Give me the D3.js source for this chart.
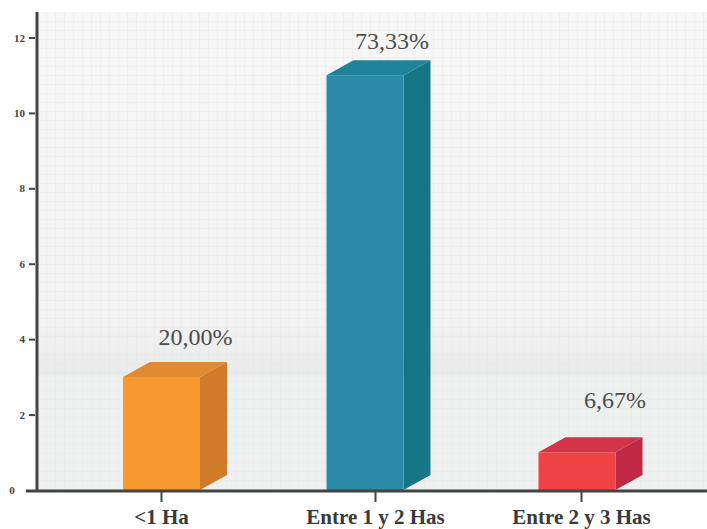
<!DOCTYPE html>
<html>
<head>
<meta charset="utf-8">
<script src="https://cdn.jsdelivr.net/npm/d3@7"></script>
<style>
  html, body { margin: 0; padding: 0; background: #ffffff; }
  svg { display: block; }
  svg text { font-family: "Liberation Serif", "DejaVu Serif", "Times New Roman", serif; }
</style>
</head>
<body>
<div id="chart"></div>
<script>
// Farm size categories and their counts
const categories = ["<1 Ha", "Entre 1 y 2 Has", "Entre 2 y 3 Has"];
const counts = [3, 11, 1];
const percentLabels = ["20,00%", "73,33%", "6,67%"];
const yTicks = [0, 2, 4, 6, 8, 10, 12];

// Face colours per bar: front, side, top
const faceColors = [
  { front: "#f7992f", side: "#d07a2a", top: "#e08a31" },
  { front: "#2b8ba9", side: "#167686", top: "#1f8399" },
  { front: "#ef4345", side: "#bf2944", top: "#d43447" }
];

const W = 707, H = 529;
const plot = { left: 37, right: 707, top: 12, bottom: 490 };
const depthX = 27, depthY = 15;
const barW = 77;
const SERIF = '"Liberation Serif", "DejaVu Serif", "Times New Roman", serif';
// Horizontal shift of each bar relative to its category tick
const barShift = [0.5, -10, -4];
// Per-label nudges (dx, dy) for the value annotations
const labelNudge = [[34, -17], [27, -11], [38, -29]];

const svg = d3.select("#chart").append("svg")
  .attr("width", W).attr("height", H);

const y = d3.scaleLinear().domain([0, 12]).range([plot.bottom, 37.5]);
const x = d3.scaleOrdinal().domain(categories).range([161, 375, 581]);

// Plot background with a soft shaded band
const defs = svg.append("defs");
const bg = defs.append("linearGradient").attr("id", "bgGrad")
  .attr("x1", 0).attr("y1", 0).attr("x2", 0).attr("y2", 1);
const frac = v => (v - plot.top) / (plot.bottom - plot.top);
bg.append("stop").attr("offset", 0).attr("stop-color", "#f6f6f6");
bg.append("stop").attr("offset", frac(320)).attr("stop-color", "#f3f3f3");
bg.append("stop").attr("offset", frac(375)).attr("stop-color", "#e9eaea");
bg.append("stop").attr("offset", frac(376)).attr("stop-color", "#eef0ef");
bg.append("stop").attr("offset", 1).attr("stop-color", "#eef0ef");

svg.append("rect")
  .attr("x", plot.left).attr("y", plot.top)
  .attr("width", plot.right - plot.left).attr("height", plot.bottom - plot.top)
  .attr("fill", "url(#bgGrad)");

// Fine background grid
const grid = svg.append("g").attr("stroke", "#e4e4e4").attr("stroke-width", 1).attr("opacity", 0.35);
grid.selectAll("line.v").data(d3.range(plot.left + 9, plot.right, 9)).join("line")
  .attr("x1", d => d + 0.5).attr("x2", d => d + 0.5)
  .attr("y1", plot.top).attr("y2", plot.bottom);
grid.selectAll("line.h").data(d3.range(plot.top + 9, plot.bottom, 9)).join("line")
  .attr("y1", d => d + 0.5).attr("y2", d => d + 0.5)
  .attr("x1", plot.left).attr("x2", plot.right);

// 3D bars
const bars = svg.append("g").selectAll("g").data(counts).join("g");
bars.each(function (v, i) {
  const g = d3.select(this);
  const cx = x(categories[i]) + barShift[i];
  const x0 = cx - barW / 2, x1 = cx + barW / 2;
  const yt = y(v), yb = y(0);
  const c = faceColors[i];
  // side face
  g.append("path")
    .attr("d", `M${x1},${yb} L${x1 + depthX},${yb - depthY} L${x1 + depthX},${yt - depthY} L${x1},${yt} Z`)
    .attr("fill", c.side);
  // top face
  g.append("path")
    .attr("d", `M${x0},${yt} L${x0 + depthX},${yt - depthY} L${x1 + depthX},${yt - depthY} L${x1},${yt} Z`)
    .attr("fill", c.top);
  // front face
  g.append("rect")
    .attr("x", x0).attr("y", yt).attr("width", barW).attr("height", yb - yt)
    .attr("fill", c.front);
  // value label
  g.append("text")
    .attr("x", cx + labelNudge[i][0])
    .attr("y", yt - depthY + labelNudge[i][1])
    .attr("text-anchor", "middle")
    .style("font-family", SERIF)
    .attr("font-size", 24)
    .attr("fill", "#4d4d4d")
    .text(percentLabels[i]);
});

// Y axis
const yAxis = svg.append("g")
  .attr("transform", `translate(${plot.left - 2},0)`)
  .call(d3.axisLeft(y).tickValues(yTicks.filter(t => t > 0)).tickSize(6).tickPadding(4).tickFormat(d3.format("d")));
yAxis.attr("font-family", null);
yAxis.select(".domain").remove();
yAxis.selectAll(".tick line").attr("stroke", "#444").attr("stroke-width", 2);
yAxis.selectAll(".tick text")
  .style("font-family", SERIF)
  .attr("font-weight", "bold").attr("font-size", 11).attr("fill", "#444");

svg.append("text")
  .attr("x", 12).attr("y", y(0) + 4)
  .attr("text-anchor", "middle")
  .style("font-family", SERIF)
  .attr("font-weight", "bold").attr("font-size", 11).attr("fill", "#444")
  .text(yTicks[0]);

svg.append("line")
  .attr("x1", plot.left).attr("x2", plot.left)
  .attr("y1", plot.top).attr("y2", plot.bottom + 2)
  .attr("stroke", "#444").attr("stroke-width", 3);

// X axis
const xAxis = svg.append("g")
  .attr("transform", `translate(0,${plot.bottom + 1})`)
  .call(d3.axisBottom(x).tickSize(11).tickPadding(7));
xAxis.attr("font-family", null);
xAxis.select(".domain").remove();
xAxis.selectAll(".tick line").attr("stroke", "#444").attr("stroke-width", 2);
xAxis.selectAll(".tick text")
  .style("font-family", SERIF)
  .attr("font-weight", "bold").attr("font-size", 21).attr("fill", "#3a3a3a");

svg.append("line")
  .attr("x1", 26).attr("x2", plot.right)
  .attr("y1", plot.bottom + 1).attr("y2", plot.bottom + 1)
  .attr("stroke", "#444").attr("stroke-width", 3);
</script>
</body>
</html>
